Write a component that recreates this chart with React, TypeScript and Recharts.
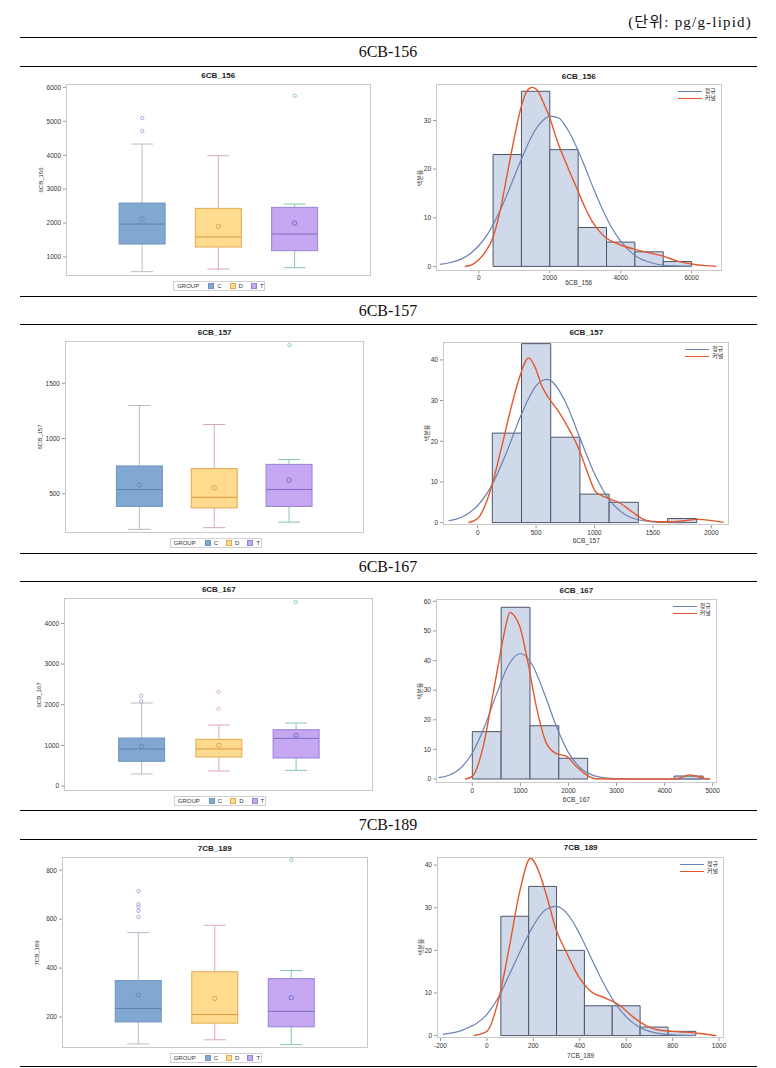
import React from 'react';
import { ComposedChart, Bar, Line, Scatter, XAxis, YAxis, ReferenceArea } from 'recharts';

const groups = ['C', 'D', 'T'];

// ---- box plot stats (whisker low, Q1, median, Q3, whisker high, mean) ----
const box156Low = [568, 646, 686];
const box156Q1 = [1383, 1295, 1187];
const box156Median = [1972, 1589, 1678];
const box156Q3 = [2591, 2434, 2464];
const box156High = [4330, 3986, 2562];
const box156Mean = [2120, 1904, 2002];
const box156Outliers = [[5096, 4713], [], [5754]];

const box157Low = [178, 193, 243];
const box157Q1 = [385, 372, 385];
const box157Median = [538, 468, 538];
const box157Q3 = [752, 728, 766];
const box157High = [1299, 1127, 810];
const box157Mean = [580, 553, 624];
const box157Outliers = [[], [], [1846]];

const box167Low = [295, 369, 385];
const box167Q1 = [607, 713, 689];
const box167Median = [910, 910, 1172];
const box167Q3 = [1180, 1148, 1385];
const box167High = [2041, 1500, 1549];
const box167Mean = [975, 1000, 1246];
const box167Outliers = [[2221, 2082], [2320, 1902], [4525]];

const box189Low = [90, 107, 87];
const box189Q1 = [180, 175, 160];
const box189Median = [235, 210, 223];
const box189Q3 = [349, 385, 357];
const box189High = [545, 575, 390];
const box189Mean = [290, 276, 279];
const box189Outliers = [[715, 661, 650, 634, 609], [], [841]];

// ---- histograms (bin midpoints, percent) ----
const hist156Mid = [800, 1600, 2400, 3200, 4000, 4800, 5600];
const hist156Pct = [23, 36, 24, 8, 5, 3, 1];
const norm156X = [-1100, -800, -500, -250, 0, 250, 500, 750, 1000, 1250, 1500, 1750, 2000, 2250, 2500, 2750, 3000, 3250, 3500, 3750, 4000, 4250, 4500, 4750, 5000, 5500, 6000];
const norm156Y = [0.4, 0.8, 1.5, 2.6, 4.3, 6.7, 10.0, 14.0, 18.5, 22.9, 26.9, 29.6, 30.9, 30.5, 28.2, 24.6, 20.3, 15.7, 11.5, 7.9, 5.2, 3.2, 1.8, 1.0, 0.5, 0.1, 0.02];
const kern156X = [-400, -200, 0, 200, 400, 600, 800, 1000, 1200, 1350, 1500, 1650, 1800, 2000, 2200, 2500, 2800, 3000, 3200, 3400, 3600, 3800, 4000, 4400, 4800, 5200, 5600, 6000, 6400, 6700];
const kern156Y = [0, 0.3, 1.4, 3.2, 6.0, 11.5, 19.0, 26.5, 33.0, 36.0, 36.8, 36.2, 34.0, 30.5, 26.0, 20.5, 15.4, 12.0, 9.2, 7.2, 5.8, 5.0, 4.4, 3.5, 2.8, 2.1, 1.1, 0.5, 0.15, 0];

const hist157Mid = [250, 500, 750, 1000, 1250, 1500, 1750];
const hist157Pct = [22, 44, 21, 7, 5, 0, 1];
const norm157X = [-250, -125, 0, 125, 250, 375, 500, 585, 625, 750, 875, 1000, 1125, 1250, 1375, 1500, 1625, 1750];
const norm157Y = [0.45, 1.5, 4.2, 9.4, 17.5, 26.7, 33.6, 35.2, 34.9, 29.7, 20.8, 12.0, 5.7, 2.2, 0.7, 0.2, 0.04, 0.01];
const kern157X = [-80, 0, 60, 125, 200, 275, 350, 437, 500, 550, 600, 700, 800, 875, 950, 1011, 1125, 1224, 1324, 1437, 1551, 1650, 1750, 1878, 2006, 2105];
const kern157Y = [0, 1.0, 4.0, 9.5, 18, 27, 35, 40.5, 37.6, 33.5, 31, 27, 22, 17.5, 11.5, 7.5, 5.9, 4.7, 2.6, 0.6, 0.2, 0.2, 0.4, 0.8, 0.5, 0.05];

const hist167Mid = [300, 900, 1500, 2100, 2700, 3300, 3900, 4500];
const hist167Pct = [16, 58, 18, 7, 0, 0, 0, 1];
const norm167X = [-700, -500, -250, 0, 250, 500, 750, 1000, 1250, 1500, 1750, 2000, 2250, 2500, 2750, 3000, 3500, 4000, 4500, 4900];
const norm167Y = [0.45, 1.2, 3.6, 8.8, 17.5, 28.5, 38.4, 42.4, 38.5, 28.8, 17.7, 8.9, 3.7, 1.3, 0.4, 0.1, 0, 0, 0, 0];
const kern167X = [-150, 0, 228, 434, 572, 700, 779, 880, 986, 1159, 1331, 1538, 1745, 1952, 2159, 2366, 2572, 3000, 3500, 4000, 4228, 4400, 4503, 4650, 4848, 4950];
const kern167Y = [0, 0.9, 11, 29, 41.4, 52, 56.3, 55, 51.6, 39.2, 24.5, 12.2, 8.6, 7.7, 4.3, 1.5, 0.1, 0, 0, 0, 0.1, 0.8, 1.4, 1.0, 0.1, 0];

const hist189Mid = [120, 240, 360, 480, 600, 720, 840];
const hist189Pct = [28, 35, 20, 7, 7, 2, 1];
const norm189X = [-190, -100, 0, 50, 100, 150, 200, 250, 300, 350, 400, 450, 500, 550, 600, 650, 700, 800, 900];
const norm189Y = [0.3, 1.4, 5.0, 9.0, 14.7, 20.5, 25.8, 29.4, 30.3, 28.3, 23.8, 18.1, 12.5, 7.8, 4.4, 2.2, 1.0, 0.16, 0.02];
const kern189X = [-57, 0, 55, 98, 141, 188, 227, 256, 299, 342, 400, 443, 515, 572, 629, 687, 744, 830, 917, 989];
const kern189Y = [0, 1.0, 9.5, 21.2, 33.7, 41.6, 38, 33, 24.7, 19.6, 13.4, 10.6, 8.7, 7.1, 4.4, 2.3, 1.25, 0.9, 0.5, 0];

const groupStyle: Record<string, any> = {
  C: { fill: '#80a8d0', stroke: '#6f95c0', median: '#5f82ad', whisker: '#bdb9c9', mean: '#7080c0', outlier: '#a0a4d8' },
  D: { fill: '#fedb8f', stroke: '#e3a94f', median: '#d99b3d', whisker: '#d9a9b1', mean: '#e49a3a', outlier: '#e3a7b4' },
  T: { fill: '#c5a7f2', stroke: '#9484d8', median: '#7d6cc4', whisker: '#86c6ae', mean: '#6a6ac8', outlier: '#86c4ac' },
};

const buildBox = (low: number[], q1: number[], med: number[], q3: number[], high: number[], mean: number[]) =>
  groups.map((g, i) => ({ x: i + 1, group: g, range: [low[i], high[i]], q1: q1[i], median: med[i], q3: q3[i], mean: mean[i] }));

const buildOutliers = (outs: number[][]) =>
  outs.flatMap((vals, i) => vals.map((v) => ({ x: i + 1, y: v, group: groups[i] })));

const buildBins = (mid: number[], pct: number[]) => mid.map((m, i) => ({ mid: m, pct: pct[i] }));
const buildCurve = (xs: number[], ys: number[]) => xs.map((x, i) => ({ x, y: ys[i] }));

const rows = [
  {
    name: '6CB-156', key: '6CB_156', lineTop: 37, head: 52, lineBot: 66,
    box: { l: 65.7, r: 370.7, t: 84.3, b: 276 }, boxTitleY: 76,
    boxDomain: [450, 6100], boxTicks: [1000, 2000, 3000, 4000, 5000, 6000],
    boxRows: buildBox(box156Low, box156Q1, box156Median, box156Q3, box156High, box156Mean),
    outliers: buildOutliers(box156Outliers),
    hist: { l: 435.7, r: 721.7, t: 84.3, b: 270.7 }, histTitleY: 77, xLabelY: 283,
    xDomain: [-1210, 6857], xTicks: [0, 2000, 4000, 6000], yDomain: [-0.82, 37.5], yTicks: [0, 10, 20, 30],
    binWidth: 800, bins: buildBins(hist156Mid, hist156Pct),
    norm: buildCurve(norm156X, norm156Y), kern: buildCurve(kern156X, kern156Y),
  },
  {
    name: '6CB-157', key: '6CB_157', lineTop: 296, head: 310.5, lineBot: 324,
    box: { l: 65, r: 364.3, t: 341, b: 533.3 }, boxTitleY: 333,
    boxDomain: [142, 1883], boxTicks: [500, 1000, 1500],
    boxRows: buildBox(box157Low, box157Q1, box157Median, box157Q3, box157High, box157Mean),
    outliers: buildOutliers(box157Outliers),
    hist: { l: 443.3, r: 729.3, t: 341.7, b: 525 }, histTitleY: 333.3, xLabelY: 541.3,
    xDomain: [-297, 2151], xTicks: [0, 500, 1000, 1500, 2000], yDomain: [-0.66, 44.4], yTicks: [0, 10, 20, 30, 40],
    binWidth: 250, bins: buildBins(hist157Mid, hist157Pct),
    norm: buildCurve(norm157X, norm157Y), kern: buildCurve(kern157X, kern157Y),
  },
  {
    name: '6CB-167', key: '6CB_167', lineTop: 553, head: 567, lineBot: 581,
    box: { l: 64.3, r: 373.3, t: 598.3, b: 791 }, boxTitleY: 590,
    boxDomain: [-115, 4625], boxTicks: [0, 1000, 2000, 3000, 4000],
    boxRows: buildBox(box167Low, box167Q1, box167Median, box167Q3, box167High, box167Mean),
    outliers: buildOutliers(box167Outliers),
    hist: { l: 436, r: 716.7, t: 599.3, b: 783.3 }, histTitleY: 591, xLabelY: 800.3,
    xDomain: [-755, 5083], xTicks: [0, 1000, 2000, 3000, 4000, 5000], yDomain: [-1.35, 60.8], yTicks: [0, 10, 20, 30, 40, 50, 60],
    binWidth: 600, bins: buildBins(hist167Mid, hist167Pct),
    norm: buildCurve(norm167X, norm167Y), kern: buildCurve(kern167X, kern167Y),
  },
  {
    name: '7CB-189', key: '7CB_189', lineTop: 810, head: 824.5, lineBot: 839,
    box: { l: 61.7, r: 367.7, t: 856.7, b: 1048.3 }, boxTitleY: 849,
    boxDomain: [71, 854], boxTicks: [200, 400, 600, 800],
    boxRows: buildBox(box189Low, box189Q1, box189Median, box189Q3, box189High, box189Mean),
    outliers: buildOutliers(box189Outliers),
    hist: { l: 437.3, r: 724, t: 856.7, b: 1037.7 }, histTitleY: 848.3, xLabelY: 1055.7,
    xDomain: [-215, 1020], xTicks: [-200, 0, 200, 400, 600, 800, 1000], yDomain: [-0.56, 41.9], yTicks: [0, 10, 20, 30, 40],
    binWidth: 120, bins: buildBins(hist189Mid, hist189Pct),
    norm: buildCurve(norm189X, norm189Y), kern: buildCurve(kern189X, kern189Y),
  },
];

const SANS = '"Liberation Sans", Arial, "Noto Sans CJK KR", sans-serif';
const SERIF = '"Liberation Serif", "DejaVu Serif", "Noto Sans CJK KR", serif';
const tickStyle = { fontSize: 6.5, fill: '#333', fontFamily: SANS };
const NORMAL = '#6b83b1';
const KERNEL = '#e4572e';

const BoxShape = (props: any) => {
  const { x, y, width, height, payload } = props;
  if (!payload) return null;
  const s = groupStyle[payload.group];
  const top = Math.min(y, y + height);
  const bot = Math.max(y, y + height);
  const [lo, hi] = payload.range;
  const py = (v: number) => bot - ((v - lo) / (hi - lo)) * (bot - top);
  const cx = x + width / 2;
  const cap = 11;
  return (
    <g>
      <line x1={cx} x2={cx} y1={py(hi)} y2={py(payload.q3)} stroke={s.whisker} strokeWidth={1} />
      <line x1={cx} x2={cx} y1={py(payload.q1)} y2={py(lo)} stroke={s.whisker} strokeWidth={1} />
      <line x1={cx - cap} x2={cx + cap} y1={py(hi)} y2={py(hi)} stroke={s.whisker} strokeWidth={1} />
      <line x1={cx - cap} x2={cx + cap} y1={py(lo)} y2={py(lo)} stroke={s.whisker} strokeWidth={1} />
      <rect x={x} y={py(payload.q3)} width={width} height={py(payload.q1) - py(payload.q3)} fill={s.fill} stroke={s.stroke} strokeWidth={1} />
      <line x1={x} x2={x + width} y1={py(payload.median)} y2={py(payload.median)} stroke={s.median} strokeWidth={1} />
      <circle cx={cx} cy={py(payload.mean)} r={2.2} fill="none" stroke={s.mean} strokeWidth={0.9} />
    </g>
  );
};

const OutlierShape = (props: any) => {
  const { cx, cy, payload } = props;
  return <circle cx={cx} cy={cy} r={1.7} fill="none" stroke={groupStyle[payload.group].outlier} strokeWidth={0.9} />;
};

const abs = (left: number, top: number, extra: React.CSSProperties = {}): React.CSSProperties => ({
  position: 'absolute', left, top, ...extra,
});

const Frame = ({ f }: { f: { l: number; r: number; t: number; b: number } }) => (
  <div style={abs(f.l, f.t, { width: f.r - f.l, height: f.b - f.t, border: '1px solid #c9c9c9', boxSizing: 'border-box', pointerEvents: 'none' })} />
);

const Title = ({ text, f, y }: { text: string; f: any; y: number }) => (
  <div style={abs(f.l, y - 5, { width: f.r - f.l, textAlign: 'center', fontSize: 8, fontWeight: 700, lineHeight: '10px', color: '#222', fontFamily: SANS })}>
    {text}
  </div>
);

const VLabel = ({ text, x, y }: { text: string; x: number; y: number }) => (
  <div style={abs(x - 20, y - 4, { width: 40, textAlign: 'center', fontSize: 6, lineHeight: '8px', color: '#333', transform: 'rotate(-90deg)', fontFamily: SANS, whiteSpace: 'nowrap' })}>
    {text}
  </div>
);

const BoxPanel = ({ r }: { r: any }) => {
  const f = r.box;
  const w = f.r - f.l;
  const h = f.b - f.t;
  const cx = (f.l + f.r) / 2;
  return (
    <>
      <Title text={r.key} f={f} y={r.boxTitleY} />
      <div style={abs(f.l - 40, f.t - 5)}>
        <ComposedChart width={w + 45} height={h + 5} data={r.boxRows} margin={{ top: 5, right: 5, bottom: 0, left: 0 }}>
          <XAxis type="number" dataKey="x" domain={[0, 4]} ticks={[1, 2, 3]} hide height={0} allowDataOverflow />
          <YAxis type="number" dataKey="y" domain={r.boxDomain} ticks={r.boxTicks} interval={0} allowDataOverflow width={40}
            axisLine={false} tickSize={3} tickLine={{ stroke: '#999' }} tick={tickStyle} />
          <Bar dataKey="range" barSize={46} shape={BoxShape} isAnimationActive={false} />
          <Scatter data={r.outliers} shape={OutlierShape} isAnimationActive={false} />
        </ComposedChart>
      </div>
      <Frame f={f} />
      <VLabel text={r.key} x={f.l - 25} y={(f.t + f.b) / 2} />
      <div style={abs(cx - 45, f.b + 5, { width: 92, height: 10, border: '1px solid #d0d0d0', boxSizing: 'border-box', display: 'flex', alignItems: 'center', fontSize: 6, fontFamily: SANS, color: '#333', paddingLeft: 3, whiteSpace: 'nowrap' })}>
        <span style={{ marginRight: 9 }}>GROUP</span>
        {groups.map((g) => (
          <span key={g} style={{ display: 'inline-flex', alignItems: 'center', marginRight: 8 }}>
            <span style={{ width: 4, height: 4, background: groupStyle[g].fill, border: `1px solid ${groupStyle[g].stroke}`, marginRight: 3 }} />
            {g}
          </span>
        ))}
      </div>
    </>
  );
};

const HistPanel = ({ r }: { r: any }) => {
  const f = r.hist;
  const w = f.r - f.l;
  const h = f.b - f.t;
  const half = r.binWidth / 2;
  return (
    <>
      <Title text={r.key} f={f} y={r.histTitleY} />
      <div style={abs(f.l - 40, f.t - 5)}>
        <ComposedChart width={w + 45} height={h + 5 + 14} margin={{ top: 5, right: 5, bottom: 0, left: 0 }}>
          <XAxis type="number" dataKey="x" domain={r.xDomain} ticks={r.xTicks} interval={0} allowDataOverflow height={14}
            axisLine={false} tickSize={3} tickLine={{ stroke: '#999' }} tick={tickStyle} />
          <YAxis type="number" domain={r.yDomain} ticks={r.yTicks} interval={0} allowDataOverflow width={40}
            axisLine={false} tickSize={3} tickLine={{ stroke: '#999' }} tick={tickStyle} />
          {r.bins.filter((b: any) => b.pct > 0).map((b: any) => (
            <ReferenceArea key={b.mid} x1={b.mid - half} x2={b.mid + half} y1={0} y2={b.pct}
              fill="#cfd9ea" fillOpacity={1} stroke="#4c5467" strokeWidth={1} ifOverflow="visible" />
          ))}
          <Line data={r.norm} dataKey="y" type="monotone" stroke={NORMAL} strokeWidth={1.2} dot={false} isAnimationActive={false} />
          <Line data={r.kern} dataKey="y" type="monotone" stroke={KERNEL} strokeWidth={1.4} dot={false} isAnimationActive={false} />
        </ComposedChart>
      </div>
      <Frame f={f} />
      <VLabel text="백분율" x={f.l - 16} y={(f.t + f.b) / 2} />
      <div style={abs(f.l, r.xLabelY - 4, { width: w, textAlign: 'center', fontSize: 6.5, lineHeight: '8px', color: '#333', fontFamily: SANS })}>
        {r.key}
      </div>
      <div style={abs(f.r - 44, f.t + 4, { width: 42, fontSize: 6, lineHeight: '7px', color: '#333', fontFamily: SANS, whiteSpace: 'nowrap' })}>
        {[['정규', NORMAL], ['커널', KERNEL]].map(([t, c]) => (
          <div key={t} style={{ display: 'flex', alignItems: 'center' }}>
            <span style={{ width: 24, height: 0, borderTop: `1.3px solid ${c}`, marginRight: 3, flex: 'none' }} />
            <span>{t}</span>
          </div>
        ))}
      </div>
    </>
  );
};

const HLine = ({ y }: { y: number }) => (
  <div style={abs(20, y, { width: 737, height: 0, borderTop: '1px solid #000' })} />
);

export default function App() {
  return (
    <div style={{ position: 'absolute', left: 0, top: 0, width: 776, height: 1068, background: '#fff', overflow: 'hidden' }}>
      <div style={abs(0, 13, { width: 752, textAlign: 'right', fontSize: 15, letterSpacing: 1.2, lineHeight: '18px', fontFamily: SERIF, color: '#111' })}>
        (단위: pg/g-lipid)
      </div>
      {rows.map((r) => (
        <React.Fragment key={r.key}>
          <HLine y={r.lineTop} />
          <div style={abs(0, r.head - 10, { width: 776, textAlign: 'center', fontSize: 16, lineHeight: '20px', fontFamily: SERIF, color: '#111' })}>
            {r.name}
          </div>
          <HLine y={r.lineBot} />
          <BoxPanel r={r} />
          <HistPanel r={r} />
        </React.Fragment>
      ))}
      <HLine y={1066} />
    </div>
  );
}
